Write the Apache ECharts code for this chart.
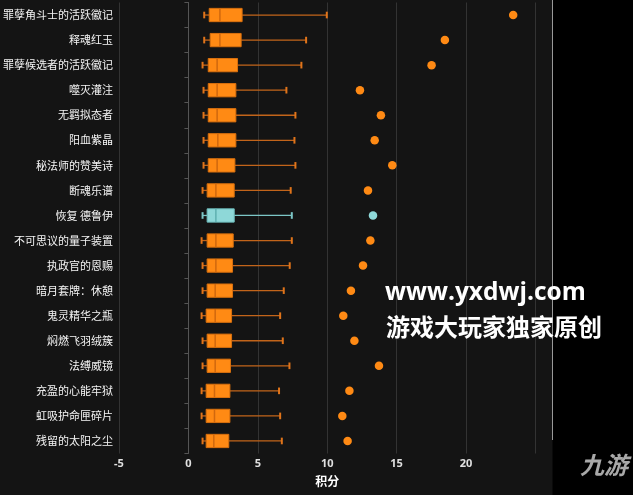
<!DOCTYPE html>
<html>
<head>
<meta charset="utf-8">
<script src="https://cdn.jsdelivr.net/npm/echarts@6/dist/echarts.min.js"></script>
<style>
html,body{margin:0;padding:0;background:#000;}
#c{width:633px;height:495px;}
</style>
</head>
<body>
<div id="c"></div>
<script>
const categories = ["罪孽角斗士的活跃徽记","释魂红玉","罪孽候选者的活跃徽记","噬灭灌注","无羁拟态者","阳血紫晶","秘法师的赞美诗","断魂乐谱","恢复 德鲁伊","不可思议的量子装置","执政官的恩赐","暗月套牌：休憩","鬼灵精华之瓶","焖燃飞羽绒簇","法缚威镜","充盈的心能牢狱","虹吸护命匣碎片","残留的太阳之尘"];
const lowWhisker = [1.14,1.14,1.02,1.09,1.09,1.09,1.09,1.02,1.02,0.95,1.02,1.02,0.95,1.02,1.02,0.95,0.95,1.02];
const q1 = [1.50,1.57,1.43,1.43,1.43,1.43,1.43,1.35,1.35,1.35,1.35,1.35,1.28,1.35,1.35,1.28,1.28,1.28];
const median = [2.27,2.27,2.07,2.07,2.07,2.12,2.07,1.98,1.98,1.98,1.98,1.93,1.93,1.93,1.93,1.88,1.88,1.83];
const q3 = [3.87,3.80,3.54,3.42,3.42,3.42,3.35,3.30,3.30,3.23,3.18,3.18,3.11,3.11,3.03,2.99,2.99,2.91];
const highWhisker = [9.97,8.48,8.14,7.06,7.71,7.64,7.71,7.37,7.45,7.45,7.30,6.87,6.61,6.80,7.28,6.53,6.61,6.73];
const outliers = [23.40,18.48,17.52,12.36,13.87,13.42,14.69,12.94,13.30,13.11,12.58,11.71,11.16,11.96,13.73,11.60,11.09,11.47];
const xTicks = { min: -5, max: 25, interval: 5 };
const highlighted = "恢复 德鲁伊";

const ORANGE = {fill:'#FF8A14', stroke:'#D9700E', whisker:'#C2641A', cap:'#E0741A', median:'#D0680E'};
const TEAL = {fill:'#8ED8D8', stroke:'#6FBFBF', whisker:'#7CC6C6', cap:'#7CC6C6', median:'#5FB0B0'};

const boxData = categories.map((c,i)=>[i, lowWhisker[i], q1[i], median[i], q3[i], highWhisker[i]]);
const outlierData = categories.map((c,i)=>({value:[outliers[i], i], itemStyle:{color:(c===highlighted?TEAL:ORANGE).fill, opacity:1}}));

const chart = echarts.init(document.getElementById('c'));
chart.setOption({
  backgroundColor: '#141414',
  animation: false,
  grid: {left: 118, right: 97.6, top: 2.5, bottom: 41.5},
  xAxis: {
    type: 'value', min: xTicks.min, max: xTicks.max, interval: xTicks.interval,
    name: '积分', nameLocation: 'middle', nameGap: 22,
    nameTextStyle: {color:'#fff', fontSize: 12, fontWeight:'bold', fontFamily:'Noto Sans CJK SC'},
    axisLine: {show:false}, axisTick: {show:false},
    axisLabel: {color:'#e0e0e0', fontSize: 11, fontWeight:'bold', margin: 5, fontFamily:'Noto Sans', showMaxLabel:false},
    splitLine: {show:true, lineStyle:{color:'#333', width:1}}
  },
  yAxis: {
    type: 'category', data: categories, inverse: true,
    axisLine: {show:true, lineStyle:{color:'#555'}},
    axisTick: {show:true, length:4, lineStyle:{color:'#555'}},
    axisLabel: {color:'#f4f4f4', fontSize: 11, margin: 6, fontFamily:'Noto Sans CJK SC'},
    splitLine: {show:false}
  },
  series: [
    {
      type: 'custom',
      data: boxData,
      encode: {x:[1,2,3,4,5], y:0},
      renderItem: function(params, api){
        const ci = api.value(0);
        const lo = api.coord([api.value(1), ci]);
        const a = api.coord([api.value(2), ci]);
        const m = api.coord([api.value(3), ci]);
        const b = api.coord([api.value(4), ci]);
        const hi = api.coord([api.value(5), ci]);
        const band = api.size([0,1])[1];
        const bh = band*0.53, ch = bh*0.5;
        const y = m[1];
        const col = categories[ci]===highlighted ? TEAL : ORANGE;
        return {type:'group', children:[
          {type:'line', shape:{x1:lo[0], y1:y, x2:a[0], y2:y}, style:{stroke:col.whisker, lineWidth:1.3}},
          {type:'line', shape:{x1:b[0], y1:y, x2:hi[0], y2:y}, style:{stroke:col.whisker, lineWidth:1.3}},
          {type:'line', shape:{x1:lo[0], y1:y-ch/2, x2:lo[0], y2:y+ch/2}, style:{stroke:col.cap, lineWidth:2}},
          {type:'line', shape:{x1:hi[0], y1:y-ch/2, x2:hi[0], y2:y+ch/2}, style:{stroke:col.cap, lineWidth:2}},
          {type:'rect', shape:{x:a[0], y:y-bh/2, width:b[0]-a[0], height:bh}, style:{fill:col.fill, stroke:col.stroke, lineWidth:1}},
          {type:'line', shape:{x1:m[0], y1:y-bh/2, x2:m[0], y2:y+bh/2}, style:{stroke:col.median, lineWidth:1.5}}
        ]};
      }
    },
    {
      type: 'scatter', data: outlierData, symbol:'circle', symbolSize: 8.5
    }
  ],
  graphic: [
    {type:'rect', left:552.5, top:0, shape:{width:81, height:495}, style:{fill:'#000'}, z:-1, silent:true},
    {type:'line', shape:{x1:552.5, y1:0, x2:552.5, y2:440}, style:{stroke:'#999', lineWidth:1}, z:10},
    {type:'text', left:385, top:281, style:{text:'www.yxdwj.com', fill:'#fff', font:'bold 24.5px "Open Sans"'}, z:100},
    {type:'text', left:386, top:315, style:{text:'游戏大玩家独家原创', fill:'#fff', font:'bold 24px "Noto Sans CJK SC"'}, z:100},
    {type:'text', left:580, top:453, style:{text:'九游', fill:'#a8a8a8', font:'italic bold 24px "Noto Sans CJK SC"'}, z:100}
  ]
});
</script>
</body>
</html>
